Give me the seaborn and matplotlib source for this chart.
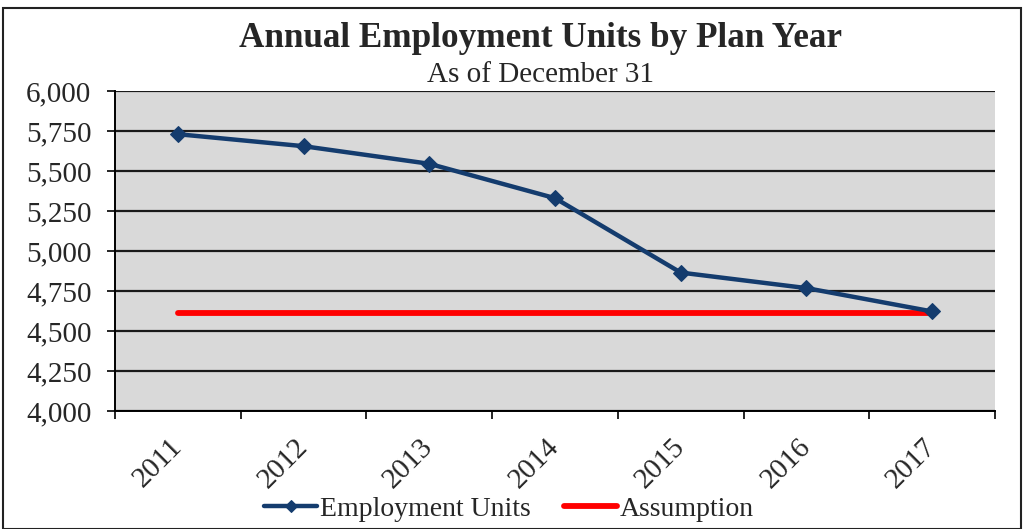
import matplotlib
matplotlib.use("Agg")
import matplotlib.pyplot as plt
import seaborn as sns
import pandas as pd
import numpy as np
from matplotlib.patches import Rectangle
from matplotlib.ticker import FuncFormatter, FixedLocator

years = ["2011", "2012", "2013", "2014", "2015", "2016", "2017"]
employment_units = [5730, 5655, 5545, 5330, 4865, 4768, 4622]
assumption = [4610, 4610, 4610, 4610, 4610, 4610, 4610]

df = pd.DataFrame({"Year": years, "Employment Units": employment_units,
                   "Assumption": assumption})

sns.set_style("white")
plt.rcParams["font.family"] = ["Liberation Serif", "DejaVu Serif"]

fig = plt.figure(figsize=(10.24, 5.29), dpi=100)
ax = fig.add_axes([0.1123, 0.2231, 0.8594, 0.6049])
ax.set_facecolor("#d9d9d9")

pos = np.arange(len(years))
sns.lineplot(x=pos, y=df["Assumption"], ax=ax, color="#ff0000", linewidth=4.2,
             label="Assumption", zorder=3)
sns.lineplot(x=pos, y=df["Employment Units"], ax=ax, color="#143c6e",
             linewidth=3.2, marker="D", markersize=8, markeredgecolor="#143c6e",
             label="Employment Units", zorder=4)

ax.set_xlim(-0.5, len(years) - 0.5)
ax.set_ylim(4000, 6000)
ax.set_yticks(np.arange(4000, 6001, 250))
ax.yaxis.set_major_formatter(FuncFormatter(lambda v, p: f"{int(v):,}"))
ax.grid(axis="y", color="#1a1a1a", linewidth=1.6)
ax.set_axisbelow(True)

ax.set_xticks(pos)
ax.set_xticklabels(years, rotation=45, ha="right", va="center",
                   rotation_mode="anchor")
ax.xaxis.set_minor_locator(FixedLocator(np.arange(-0.5, len(years), 1.0)))
ax.tick_params(axis="x", which="major", length=0, labelsize=21, pad=23)
ax.tick_params(axis="x", which="minor", length=6, width=1.2, color="black",
               direction="out", bottom=True)
ax.tick_params(axis="y", length=6, width=1.2, color="black", labelsize=21,
               left=True, pad=11, direction="out")

for side in ["top", "right"]:
    ax.spines[side].set_visible(False)
for side in ["left", "bottom"]:
    ax.spines[side].set_color("black")
    ax.spines[side].set_linewidth(1.4)
ax.set_xlabel("")
ax.set_ylabel("")

fig.text(0.528, 0.928, "Annual Employment Units by Plan Year", ha="center",
         va="center", fontsize=25.3, fontweight="bold")
fig.text(0.528, 0.858, "As of December 31", ha="center", va="center",
         fontsize=21)

handles, labels = ax.get_legend_handles_labels()
order = [labels.index("Employment Units"), labels.index("Assumption")]
leg = ax.legend([handles[i] for i in order], [labels[i] for i in order],
                loc="center", bbox_to_anchor=(0.497, 0.037),
                bbox_transform=fig.transFigure, ncol=2, frameon=False,
                fontsize=20, handlelength=1.9, handletextpad=0.1,
                columnspacing=1.2, borderpad=0)
leg.legend_handles[0].set_markersize(6)

fig.patches.append(Rectangle((0.003, 0.0), 0.994, 0.985, transform=fig.transFigure,
                             fill=False, edgecolor="#222222", linewidth=1.5))

fig.savefig("out.png", dpi=100, facecolor="white")
